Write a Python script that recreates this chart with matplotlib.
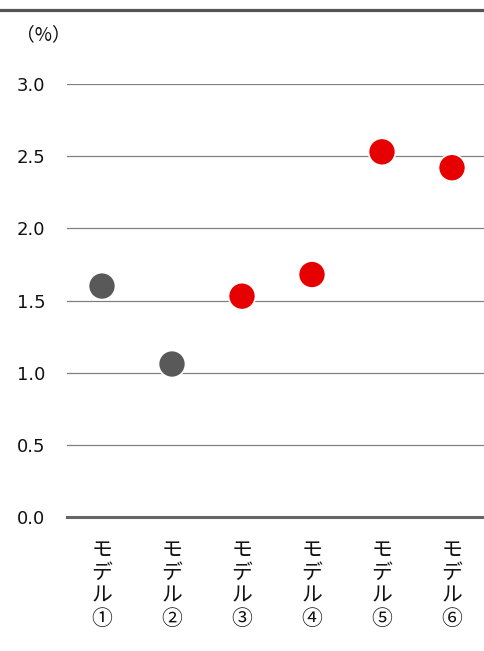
import matplotlib
matplotlib.use("Agg")
import matplotlib.pyplot as plt
from matplotlib.lines import Line2D

plt.rcParams['font.family'] = ['Noto Sans CJK JP', 'DejaVu Sans']

categories = ["モデル①", "モデル②", "モデル③", "モデル④", "モデル⑤", "モデル⑥"]
values = [1.60, 1.06, 1.53, 1.68, 2.53, 2.42]
colors = ["#595959", "#595959", "#E60000", "#E60000", "#E60000", "#E60000"]
yticks = [0.0, 0.5, 1.0, 1.5, 2.0, 2.5, 3.0]
ytick_labels = ["0.0", "0.5", "1.0", "1.5", "2.0", "2.5", "3.0"]

W, H = 485, 651
fig = plt.figure(figsize=(W / 100, H / 100), dpi=100)
ax = fig.add_axes([67 / W, (H - 517) / H, 420 / W, (517 - 84) / H])

x = list(range(len(categories)))
ax.scatter(x, values, s=27 ** 2 * 0.5184, c=colors, edgecolors="white",
           linewidths=1.2, zorder=3, clip_on=False)

ax.set_xlim(-0.5, len(categories) - 0.5)
ax.set_ylim(0, 3.0)
ax.set_yticks(yticks)
ax.set_yticklabels(ytick_labels, fontsize=13, color="#111111",
                   family=["DejaVu Sans"])
ax.tick_params(axis="y", length=0, pad=15.5)
ax.set_xticks(x)
ax.set_xticklabels(["\n".join(c) for c in categories], fontsize=15,
                   color="#111111", linespacing=1.05, va="top")
ax.tick_params(axis="x", length=0, pad=16)

ax.grid(axis="y", color="#808080", linewidth=0.9)
ax.set_axisbelow(True)
for s in ["top", "right", "left"]:
    ax.spines[s].set_visible(False)
ax.spines["bottom"].set_color("#666666")
ax.spines["bottom"].set_linewidth(2.2)
ax.spines["bottom"].set_zorder(2)

fig.text(16 / W, 1 - 35 / H, "（%）", fontsize=13.5, color="#111111",
         va="center", ha="left")
fig.add_artist(Line2D([0, 1], [1 - 9.5 / H, 1 - 9.5 / H], color="#555555",
                      linewidth=2.3, transform=fig.transFigure))

fig.savefig("out.png", dpi=100)
